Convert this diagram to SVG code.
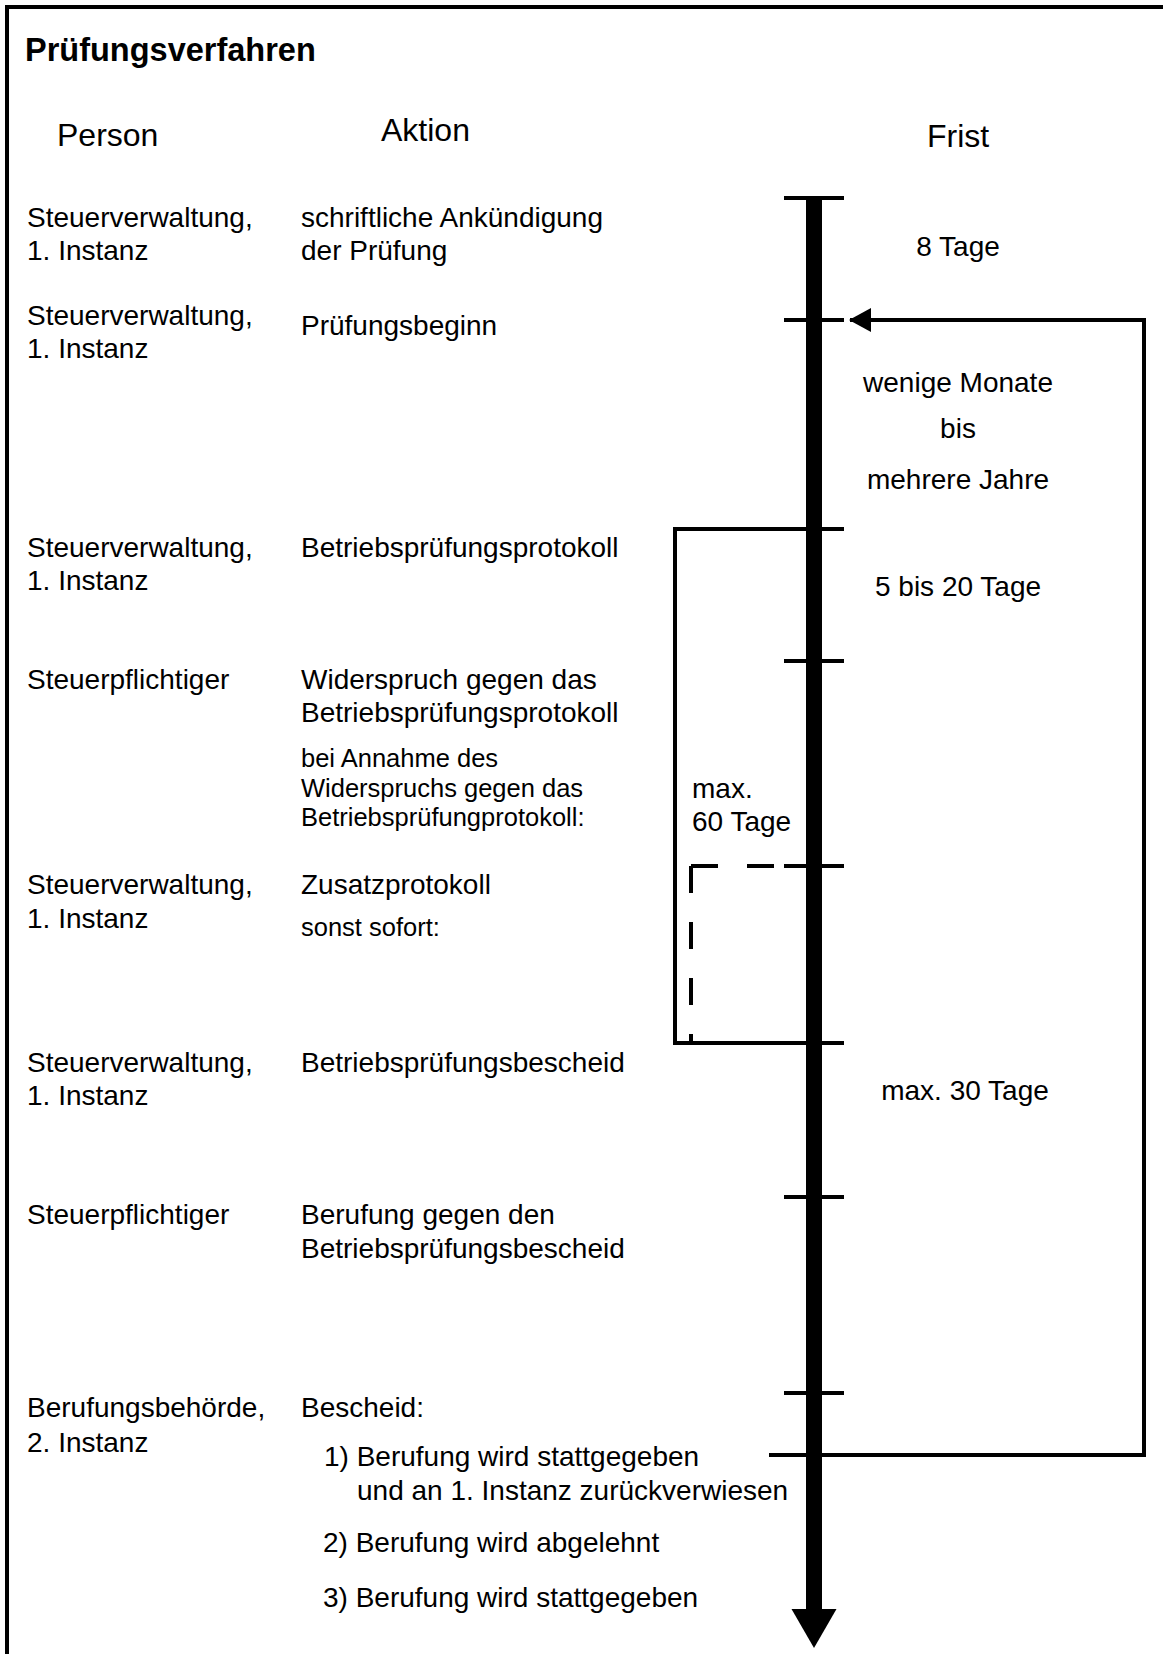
<svg xmlns="http://www.w3.org/2000/svg" width="1163" height="1654" viewBox="0 0 1163 1654">
<style>
text{font-family:"Liberation Sans",Arial,sans-serif;fill:#000}
.t{font-size:32.5px;font-weight:bold}
.h{font-size:32px}
.n{font-size:28px}
.s{font-size:25.5px}
.c{text-anchor:middle}
.ln{stroke:#000;stroke-width:4;fill:none}
.tk{stroke:#000;stroke-width:4}
.ds{stroke:#000;stroke-width:4;fill:none;stroke-dasharray:27 29}
</style>
<defs>
<marker id="ah" markerUnits="userSpaceOnUse" markerWidth="22" markerHeight="24" refX="21" refY="12" orient="auto">
<path d="M0,0 L22,12 L0,24 Z" fill="#000"/>
</marker>
</defs>
<rect x="0" y="0" width="1163" height="1654" fill="#fff"/>
<g id="frame">
<path class="ln" d="M7,1654 L7,7 L1163,7" stroke-width="3"/>
</g>
<g id="title"><text class="t" x="25" y="61">Prüfungsverfahren</text></g>
<g id="headers">
<text class="h" x="57" y="146">Person</text>
<text class="h" x="381" y="141">Aktion</text>
<text class="h" x="927" y="147">Frist</text>
</g>
<g id="row1">
<text class="n" x="27" y="227">Steuerverwaltung,</text>
<text class="n" x="27" y="260">1. Instanz</text>
<text class="n" x="301" y="227">schriftliche Ankündigung</text>
<text class="n" x="301" y="260">der Prüfung</text>
</g>
<g id="row2">
<text class="n" x="27" y="325">Steuerverwaltung,</text>
<text class="n" x="27" y="358">1. Instanz</text>
<text class="n" x="301" y="335">Prüfungsbeginn</text>
</g>
<g id="row3">
<text class="n" x="27" y="557">Steuerverwaltung,</text>
<text class="n" x="27" y="590">1. Instanz</text>
<text class="n" x="301" y="557">Betriebsprüfungsprotokoll</text>
</g>
<g id="row4">
<text class="n" x="27" y="689">Steuerpflichtiger</text>
<text class="n" x="301" y="689">Widerspruch gegen das</text>
<text class="n" x="301" y="722">Betriebsprüfungsprotokoll</text>
<text class="s" x="301" y="767">bei Annahme des</text>
<text class="s" x="301" y="797">Widerspruchs gegen das</text>
<text class="s" x="301" y="826">Betriebsprüfungprotokoll:</text>
</g>
<g id="row5">
<text class="n" x="27" y="894">Steuerverwaltung,</text>
<text class="n" x="27" y="928">1. Instanz</text>
<text class="n" x="301" y="894">Zusatzprotokoll</text>
<text class="s" x="301" y="936">sonst sofort:</text>
</g>
<g id="row6">
<text class="n" x="27" y="1072">Steuerverwaltung,</text>
<text class="n" x="27" y="1105">1. Instanz</text>
<text class="n" x="301" y="1072">Betriebsprüfungsbescheid</text>
</g>
<g id="row7">
<text class="n" x="27" y="1224">Steuerpflichtiger</text>
<text class="n" x="301" y="1224">Berufung gegen den</text>
<text class="n" x="301" y="1258">Betriebsprüfungsbescheid</text>
</g>
<g id="row8">
<text class="n" x="27" y="1417">Berufungsbehörde,</text>
<text class="n" x="27" y="1452">2. Instanz</text>
<text class="n" x="301" y="1417">Bescheid:</text>
<text class="n" x="324" y="1466">1) Berufung wird stattgegeben</text>
<text class="n" x="357" y="1500">und an 1. Instanz zurückverwiesen</text>
<text class="n" x="323" y="1552">2) Berufung wird abgelehnt</text>
<text class="n" x="323" y="1607">3) Berufung wird stattgegeben</text>
</g>
<g id="fristen">
<text class="n c" x="958" y="256">8 Tage</text>
<text class="n c" x="958" y="392">wenige Monate</text>
<text class="n c" x="958" y="438">bis</text>
<text class="n c" x="958" y="489">mehrere Jahre</text>
<text class="n c" x="958" y="596">5 bis 20 Tage</text>
<text class="n" x="692" y="798">max.</text>
<text class="n" x="692" y="831">60 Tage</text>
<text class="n c" x="965" y="1100">max. 30 Tage</text>
</g>
<g id="connectors">
<line x1="814" y1="198" x2="814" y2="1612" stroke="#000" stroke-width="16"/>
<path d="M791.5,1609 L836.5,1609 L814,1648 Z" fill="#000"/>
<line class="tk" x1="784" y1="198" x2="844" y2="198"/>
<line class="tk" x1="784" y1="320" x2="844" y2="320"/>
<line class="tk" x1="784" y1="529" x2="844" y2="529"/>
<line class="tk" x1="784" y1="661" x2="844" y2="661"/>
<line class="tk" x1="784" y1="866" x2="844" y2="866"/>
<line class="tk" x1="784" y1="1043" x2="844" y2="1043"/>
<line class="tk" x1="784" y1="1197" x2="844" y2="1197"/>
<line class="tk" x1="784" y1="1393" x2="844" y2="1393"/>
<path class="ln" d="M769,1455 L1144,1455 L1144,320 L850,320" marker-end="url(#ah)"/>
<path class="ln" d="M784,529 L675,529 L675,1043 L784,1043"/>
<line class="ds" x1="691" y1="866" x2="784" y2="866"/>
<line class="ds" x1="691" y1="866" x2="691" y2="1043"/>
</g>
</svg>
